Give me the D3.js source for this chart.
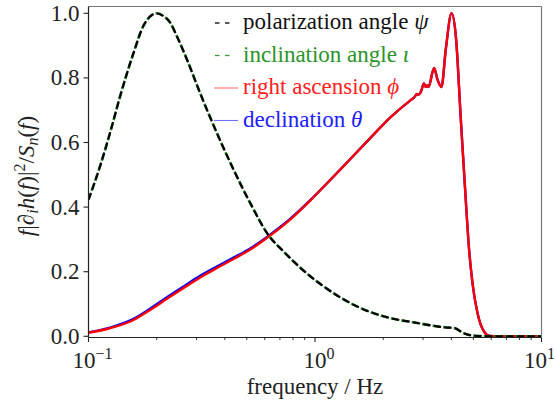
<!DOCTYPE html>
<html><head><meta charset="utf-8"><script src="https://cdn.jsdelivr.net/npm/d3@7"></script>
<style>
  svg text, svg tspan { font-family: "Liberation Serif", "Times New Roman", Times !important; }
</style>
</head>
<body style="margin:0">
<svg id="fig" width="555" height="405" style="display:block" font-family="Liberation Serif"></svg>
<script>
// Frequency grid (Hz) and normalised sensitivity of the waveform to each parameter
const freqPsi = [0.1, 0.1124, 0.1245, 0.1379, 0.158, 0.175, 0.187, 0.2, 0.2137, 0.229, 0.2456, 0.272, 0.311, 0.369, 0.437, 0.518, 0.622, 0.728, 0.862, 1.094, 1.538, 2.158, 2.735, 3.24, 3.85, 4.1, 4.55, 5.0, 5.9, 10];
const valuesPsi = [0.423, 0.526, 0.63, 0.743, 0.877, 0.962, 0.99, 1.0, 0.992, 0.972, 0.929, 0.857, 0.753, 0.629, 0.516, 0.412, 0.314, 0.262, 0.212, 0.154, 0.092, 0.056, 0.043, 0.034, 0.027, 0.026, 0.009, 0.002, 0.0, 0.0];
const valuesIota = [0.423, 0.526, 0.63, 0.743, 0.877, 0.962, 0.99, 1.0, 0.992, 0.972, 0.929, 0.857, 0.753, 0.629, 0.516, 0.412, 0.314, 0.262, 0.212, 0.154, 0.092, 0.056, 0.043, 0.034, 0.027, 0.026, 0.009, 0.002, 0.0, 0.0];

const freqPhi = [0.1, 0.1245, 0.158, 0.187, 0.222, 0.263, 0.311, 0.369, 0.437, 0.518, 0.6356, 0.779, 0.955, 1.171, 1.436, 1.761, 2.158, 2.646, 2.735, 2.82, 2.86, 2.93, 3.03, 3.08, 3.13, 3.17, 3.355, 3.473, 3.617, 3.779, 4.007, 4.186, 4.404, 4.63, 4.79, 4.96, 5.22, 5.58, 5.9, 6.5, 10];
const valuesPhi = [0.011, 0.025, 0.0505, 0.0816, 0.116, 0.1495, 0.182, 0.2115, 0.2395, 0.2685, 0.3126, 0.3622, 0.4211, 0.4847, 0.5498, 0.6149, 0.6784, 0.7312, 0.739, 0.75, 0.748, 0.756, 0.783, 0.772, 0.777, 0.772, 0.831, 0.795, 0.772, 0.888, 1.0, 0.929, 0.671, 0.423, 0.268, 0.164, 0.071, 0.014, 0.001, 0.0, 0.0];
const valuesTheta = [0.012, 0.027, 0.054, 0.0856, 0.121, 0.1545, 0.187, 0.216, 0.2435, 0.272, 0.3156, 0.3642, 0.4221, 0.4852, 0.5498, 0.6149, 0.6784, 0.7312, 0.739, 0.75, 0.748, 0.756, 0.783, 0.772, 0.777, 0.772, 0.831, 0.795, 0.772, 0.888, 1.0, 0.929, 0.671, 0.423, 0.268, 0.164, 0.071, 0.014, 0.001, 0.0, 0.0];

const yTicks = [0.0, 0.2, 0.4, 0.6, 0.8, 1.0];
const xDecades = [{v: 0.1, exp: "\u22121"}, {v: 1, exp: "0"}, {v: 10, exp: "1"}];

const legendItems = [
  {label: "polarization angle ", sym: "\u03C8", color: "#000", text: "#111", dash: true},
  {label: "inclination angle ", sym: "\u03B9", color: "#3a9a3a", text: "#2a942a", dash: true},
  {label: "right ascension ", sym: "\u03D5", color: "#ff7070", text: "#ff2020", dash: false},
  {label: "declination ", sym: "\u03B8", color: "#7070ff", text: "#2020ff", dash: false}
];

const FONT = "Liberation Serif";
const svg = d3.select("#fig");
const L = 88.5, R = 541.5, T = 6.5, B = 337.5;

const x = d3.scaleLog().domain([0.1, 10]).range([L, R]);
const y = d3.scaleLinear().domain([0, 1]).range([336.3, 13.3]);

function label(sel) {
  return sel.append("text").attr("font-family", FONT).style("font-family", "'Liberation Serif'").attr("fill", "#222");
}

svg.append("defs").append("clipPath").attr("id", "plotclip")
  .append("rect").attr("x", L).attr("y", T).attr("width", R - L).attr("height", B - T);

const plot = svg.append("g").attr("clip-path", "url(#plotclip)");

const line = d3.line().x(d => x(d[0])).y(d => y(d[1])).curve(d3.curveMonotoneX);

// declination underneath, right ascension on top
plot.append("path").datum(d3.zip(freqPhi, valuesTheta))
  .attr("d", line).attr("fill", "none").attr("stroke", "#0000ff").attr("stroke-width", 2.4);
plot.append("path").datum(d3.zip(freqPhi, valuesPhi))
  .attr("d", line).attr("fill", "none").attr("stroke", "#ff0000").attr("stroke-width", 2.4);

// inclination (green) dashed beneath polarization (black) dashed
plot.append("path").datum(d3.zip(freqPsi, valuesIota))
  .attr("d", line).attr("fill", "none").attr("stroke", "#2e8b2e").attr("stroke-width", 2.6)
  .attr("stroke-dasharray", "7.4,3.2").attr("stroke-dashoffset", 1.2);
plot.append("path").datum(d3.zip(freqPsi, valuesPsi))
  .attr("d", line).attr("fill", "none").attr("stroke", "#000").attr("stroke-width", 2.2)
  .attr("stroke-dasharray", "7.4,3.2");

// frame
svg.append("line").attr("x1", L).attr("x2", R).attr("y1", T).attr("y2", T).attr("stroke", "#777").attr("stroke-width", 1.2);
svg.append("line").attr("x1", R).attr("x2", R).attr("y1", T).attr("y2", B).attr("stroke", "#777").attr("stroke-width", 1.2);
svg.append("line").attr("x1", L).attr("x2", L).attr("y1", T).attr("y2", B).attr("stroke", "#222").attr("stroke-width", 1.2);
svg.append("line").attr("x1", L).attr("x2", R).attr("y1", B).attr("y2", B).attr("stroke", "#222").attr("stroke-width", 1.2);

// y axis ticks and labels
const yAxis = svg.append("g");
yTicks.forEach(t => {
  yAxis.append("line").attr("x1", L - 5).attr("x2", L).attr("y1", y(t)).attr("y2", y(t)).attr("stroke", "#222").attr("stroke-width", 1.1);
  label(yAxis).attr("x", L - 9).attr("y", y(t) + 7.5).attr("text-anchor", "end")
    .attr("font-size", 23).text(t.toFixed(1));
});

// x axis: major decades and minor ticks
const xAxis = svg.append("g");
const minor = [];
[0.1, 1].forEach(dec => { for (let k = 2; k <= 9; k++) minor.push(dec * k); });
minor.forEach(v => {
  xAxis.append("line").attr("x1", x(v)).attr("x2", x(v)).attr("y1", B).attr("y2", B + 2.6).attr("stroke", "#222").attr("stroke-width", 0.9);
});
xDecades.forEach(d => {
  xAxis.append("line").attr("x1", x(d.v)).attr("x2", x(d.v)).attr("y1", B).attr("y2", B + 4.5).attr("stroke", "#222").attr("stroke-width", 1.1);
  const t = label(xAxis).attr("x", x(d.v) + (d.v === 10 ? -2 : 4)).attr("y", 368).attr("text-anchor", "middle")
    .attr("font-size", 23);
  t.append("tspan").text("10");
  t.append("tspan").attr("dy", -9).attr("font-size", 16).text(d.exp);
});

// axis titles
label(svg).attr("x", 315).attr("y", 394).attr("text-anchor", "middle")
  .attr("font-size", 23).text("frequency / Hz");

const yl = label(svg).attr("transform", "translate(34,176) rotate(-90)")
  .attr("text-anchor", "middle").attr("font-size", 23);
const parts = [
  ["f", true], ["|\u2202", false], ["i", true, "sub"], ["h", true], ["(", false], ["f", true], [")|", false],
  ["2", false, "sup"], ["/", false], ["S", true], ["n", true, "sub"], ["(", false], ["f", true], [")", false]
];
let shift = 0;
parts.forEach(p => {
  const ts = yl.append("tspan").text(p[0]);
  if (p[1]) ts.attr("font-style", "italic");
  let target = 0;
  if (p[2] === "sub") { target = 4; ts.attr("font-size", 16); }
  if (p[2] === "sup") { target = -9; ts.attr("font-size", 16); }
  ts.attr("dy", target - shift);
  shift = target;
});

// legend
const lg = svg.append("g");
legendItems.forEach((it, i) => {
  const cy = 23 + i * 32.5;
  if (it.dash) {
    lg.append("line").attr("x1", 215).attr("x2", 219.5).attr("y1", cy).attr("y2", cy).attr("stroke", it.color).attr("stroke-width", 1.3);
    lg.append("line").attr("x1", 225).attr("x2", 229.5).attr("y1", cy).attr("y2", cy).attr("stroke", it.color).attr("stroke-width", 1.3);
  } else {
    lg.append("line").attr("x1", 214).attr("x2", 238).attr("y1", cy).attr("y2", cy).attr("stroke", it.color).attr("stroke-width", 1.1);
  }
  const t = label(lg).attr("x", 243).attr("y", cy + 6).attr("font-size", 23).attr("fill", it.text);
  t.append("tspan").text(it.label);
  t.append("tspan").attr("font-style", "italic").text(it.sym);
});
</script>
</body>
</html>
